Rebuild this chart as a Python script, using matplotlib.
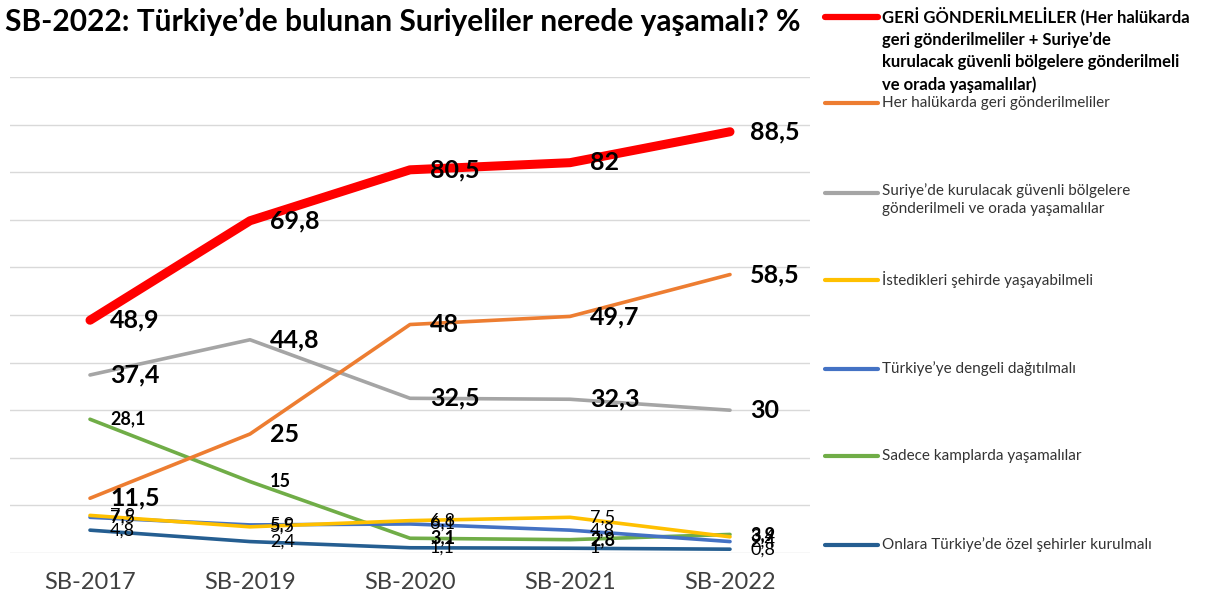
import matplotlib.pyplot as plt
from matplotlib.lines import Line2D

plt.rcParams['font.family'] = ['Lato', 'DejaVu Sans']

years = ["SB-2017", "SB-2019", "SB-2020", "SB-2021", "SB-2022"]

geri_toplam = [48.9, 69.8, 80.5, 82, 88.5]
her_halukarda = [11.5, 25, 48, 49.7, 58.5]
guvenli_bolge = [37.4, 44.8, 32.5, 32.3, 30]
istedikleri_sehir = [7.9, 5.5, 6.8, 7.5, 3.4]
dengeli_dagitim = [7.5, 5.9, 6.1, 4.8, 2.4]
sadece_kamp = [28.1, 15, 3.1, 2.8, 3.9]
ozel_sehir = [4.8, 2.4, 1.1, 1, 0.8]

labels = [
    "GERİ GÖNDERİLMELİLER (Her halükarda\ngeri gönderilmeliler + Suriye’de\n"
    "kurulacak güvenli bölgelere gönderilmeli\nve orada yaşamalılar)",
    "Her halükarda geri gönderilmeliler",
    "Suriye’de kurulacak güvenli bölgelere\ngönderilmeli ve orada yaşamalılar",
    "İstedikleri şehirde yaşayabilmeli",
    "Türkiye’ye dengeli dağıtılmalı",
    "Sadece kamplarda yaşamalılar",
    "Onlara Türkiye’de özel şehirler kurulmalı",
]

# (values, color, line width, label size, label weight)
series = [
    (geri_toplam, "#FF0000", 6.5, 18, "bold"),
    (her_halukarda, "#ED7D31", 2.6, 18, "bold"),
    (guvenli_bolge, "#A5A5A5", 2.6, 18, "bold"),
    (istedikleri_sehir, "#FFC000", 2.6, 13, "normal"),
    (dengeli_dagitim, "#4472C4", 2.6, 13, "normal"),
    (sadece_kamp, "#70AD47", 2.6, 13, "bold"),
    (ozel_sehir, "#255E91", 2.6, 13, "normal"),
]

fig = plt.figure(figsize=(12.11, 6.05), dpi=100)
ax = fig.add_axes([10 / 1211, 1 - 553 / 605, 800 / 1211, 476 / 605])

x = list(range(len(years)))
# draw from back to front so the red line is on top
for vals, color, lw, fs, fw in reversed(series):
    ax.plot(x, vals, color=color, lw=lw, solid_capstyle="round", zorder=3)

for vals, color, lw, fs, fw in series:
    for xi, v in zip(x, vals):
        txt = ("%g" % v).replace(".", ",")
        ax.annotate(txt, (xi, v), xytext=(20, 0), textcoords="offset pixels",
                    ha="left", va="center", fontsize=fs, fontweight=fw,
                    color="black", zorder=5)

ax.set_xlim(-0.5, 4.5)
ax.set_ylim(0, 100)
ax.set_yticks(range(0, 101, 10))
ax.set_yticklabels([])
ax.tick_params(axis="y", length=0)
ax.tick_params(axis="x", length=0, pad=14, labelsize=17, labelcolor="#404040")
ax.set_xticks(x)
ax.set_xticklabels(years)
ax.grid(axis="y", color="#D9D9D9", lw=1)
ax.set_axisbelow(True)
for s in ax.spines.values():
    s.set_visible(False)

fig.text(5 / 1211, 1 - 22 / 605, "SB-2022: Türkiye’de bulunan Suriyeliler nerede yaşamalı? %",
         fontsize=21.5, fontweight="bold", va="center", ha="left")

# legend on the right
leg_y = [17, 103, 193, 280, 369, 456, 545]
for (vals, color, lw, fs, fw), lab, yy in zip(series, labels, leg_y):
    fy = 1 - yy / 605
    first = color == "#FF0000"
    fig.add_artist(Line2D([825 / 1211, 878 / 1211], [fy, fy], color=color,
                          lw=4.5 if first else 3, solid_capstyle="round",
                          transform=fig.transFigure))
    multi = "\n" in lab
    fig.text(882 / 1211, fy + (10 / 605 if multi else 0), lab,
             fontsize=12 if first else 11, va="top" if multi else "center",
             ha="left", fontweight="bold" if first else "normal",
             linespacing=1.45 if first else 1.4,
             color="black" if first else "#333333")

fig.savefig("out.png", dpi=100)
